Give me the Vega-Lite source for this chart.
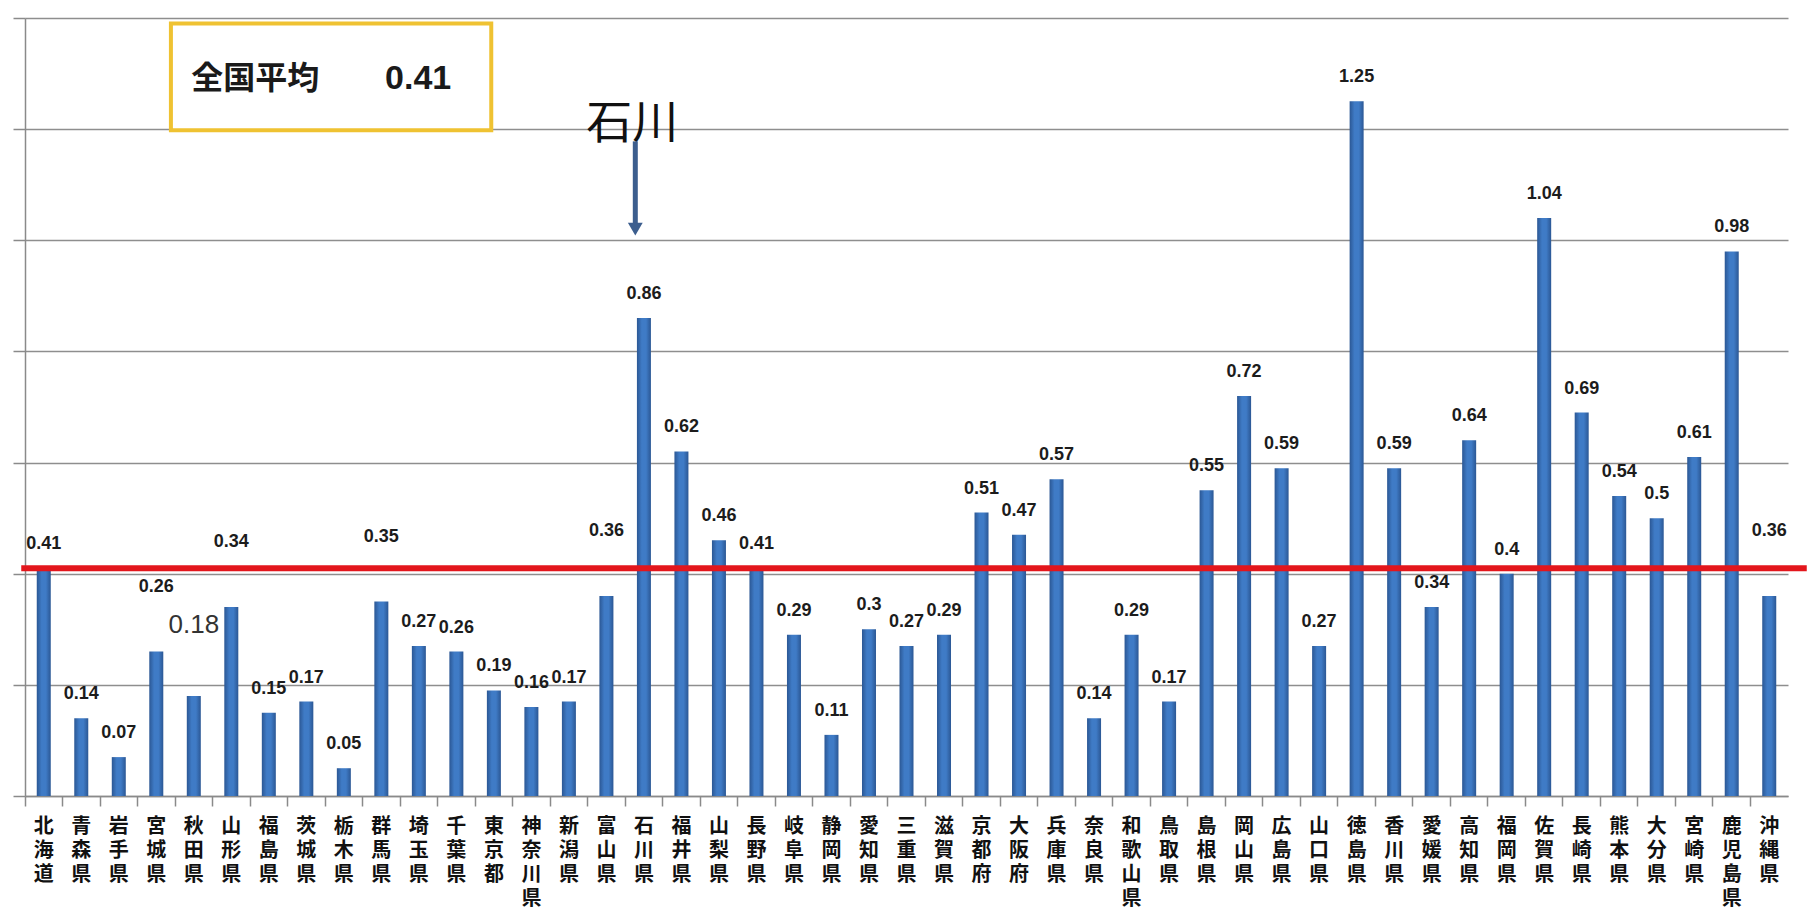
{
  "$schema": "https://vega.github.io/schema/vega-lite/v6.json",
  "width": 1763,
  "height": 778,
  "autosize": {"type": "none"},
  "padding": {"left": 25, "top": 18, "right": 26, "bottom": 124},
  "background": "white",
  "config": {"view": {"stroke": null}},
  "datasets": {
    "pref": [
      {"pref": "北海道", "v": 0.41}, {"pref": "青森県", "v": 0.14}, {"pref": "岩手県", "v": 0.07},
      {"pref": "宮城県", "v": 0.26}, {"pref": "秋田県", "v": 0.18}, {"pref": "山形県", "v": 0.34},
      {"pref": "福島県", "v": 0.15}, {"pref": "茨城県", "v": 0.17}, {"pref": "栃木県", "v": 0.05},
      {"pref": "群馬県", "v": 0.35}, {"pref": "埼玉県", "v": 0.27}, {"pref": "千葉県", "v": 0.26},
      {"pref": "東京都", "v": 0.19}, {"pref": "神奈川県", "v": 0.16}, {"pref": "新潟県", "v": 0.17},
      {"pref": "富山県", "v": 0.36}, {"pref": "石川県", "v": 0.86}, {"pref": "福井県", "v": 0.62},
      {"pref": "山梨県", "v": 0.46}, {"pref": "長野県", "v": 0.41}, {"pref": "岐阜県", "v": 0.29},
      {"pref": "静岡県", "v": 0.11}, {"pref": "愛知県", "v": 0.3}, {"pref": "三重県", "v": 0.27},
      {"pref": "滋賀県", "v": 0.29}, {"pref": "京都府", "v": 0.51}, {"pref": "大阪府", "v": 0.47},
      {"pref": "兵庫県", "v": 0.57}, {"pref": "奈良県", "v": 0.14}, {"pref": "和歌山県", "v": 0.29},
      {"pref": "鳥取県", "v": 0.17}, {"pref": "島根県", "v": 0.55}, {"pref": "岡山県", "v": 0.72},
      {"pref": "広島県", "v": 0.59}, {"pref": "山口県", "v": 0.27}, {"pref": "徳島県", "v": 1.25},
      {"pref": "香川県", "v": 0.59}, {"pref": "愛媛県", "v": 0.34}, {"pref": "高知県", "v": 0.64},
      {"pref": "福岡県", "v": 0.4}, {"pref": "佐賀県", "v": 1.04}, {"pref": "長崎県", "v": 0.69},
      {"pref": "熊本県", "v": 0.54}, {"pref": "大分県", "v": 0.5}, {"pref": "宮崎県", "v": 0.61},
      {"pref": "鹿児島県", "v": 0.98}, {"pref": "沖縄県", "v": 0.36}
    ]
  },
  "layer": [
    {
      "data": {"name": "pref"},
      "encoding": {
        "x": {
          "field": "pref", "type": "nominal", "sort": null,
          "scale": {"paddingInner": 0, "paddingOuter": 0},
          "axis": {
            "title": null, "labelAngle": 0, "bandPosition": 0,
            "labelExpr": "split(datum.label, '')",
            "labelFont": "Noto Sans CJK JP", "labelFontWeight": "bold", "labelFontSize": 20,
            "labelLineHeight": 24, "labelColor": "#111", "labelBaseline": "top", "labelPadding": 10,
            "domainColor": "#8a8a8a", "domainWidth": 1.5, "tickColor": "#8a8a8a", "tickWidth": 1.5, "tickSize": 10,
            "labelOverlap": false, "labelBound": false
          }
        },
        "y": {
          "field": "v", "type": "quantitative",
          "scale": {"domain": [0, 1.4], "nice": false},
          "axis": {
            "title": null, "labels": false, "values": [0, 0.2, 0.4, 0.6, 0.8, 1.0, 1.2, 1.4],
            "domainColor": "#8a8a8a", "domainWidth": 1.5, "tickColor": "#8a8a8a", "tickWidth": 1.5, "tickSize": 12,
            "gridColor": "#8e8e8e", "gridWidth": 1.5
          }
        }
      },
      "layer": [
        {
          "mark": {
            "type": "bar", "size": 14,
            "color": {"gradient": "linear", "x1": 0, "x2": 1, "y1": 0, "y2": 0,
              "stops": [{"offset": 0, "color": "#2b5794"}, {"offset": 0.35, "color": "#3f7bc6"}, {"offset": 0.65, "color": "#3f7bc6"}, {"offset": 1, "color": "#2b5794"}]}
          }
        },
        {
          "transform": [{"filter": {"not": {"field": "pref", "oneOf": ["山形県", "群馬県", "富山県", "沖縄県", "宮城県", "秋田県"]}}}],
          "mark": {"type": "text", "font": "Liberation Sans Narrow, Liberation Sans", "fontWeight": "bold", "fontSize": 18, "color": "#1c1c1c", "baseline": "middle", "dy": -24},
          "encoding": {"text": {"field": "v", "type": "quantitative"}}
        },
        {
          "transform": [{"filter": {"field": "pref", "oneOf": ["山形県", "群馬県", "富山県", "沖縄県", "宮城県"]}}],
          "mark": {"type": "text", "font": "Liberation Sans Narrow, Liberation Sans", "fontWeight": "bold", "fontSize": 18, "color": "#1c1c1c", "baseline": "middle", "dy": -65},
          "encoding": {"text": {"field": "v", "type": "quantitative"}}
        },
        {
          "transform": [{"filter": {"field": "pref", "equal": "秋田県"}}],
          "mark": {"type": "text", "font": "Liberation Sans Narrow, Liberation Sans", "fontSize": 26, "color": "#333", "baseline": "middle", "dy": -71},
          "encoding": {"text": {"field": "v", "type": "quantitative"}}
        }
      ]
    },
    {
      "data": {"values": [{}]},
      "layer": [
        {
          "mark": {"type": "rule", "color": "#e3161c", "strokeWidth": 6},
          "encoding": {
            "x": {"datum": -0.1, "type": "quantitative", "scale": {"domain": [0, 47]}, "axis": null},
            "x2": {"datum": 47.5},
            "y": {"datum": 0.41, "type": "quantitative"}
          }
        },
        {
          "mark": {"type": "rect", "fill": "white", "stroke": "#efc232", "strokeWidth": 4},
          "encoding": {
            "x": {"datum": 3.89, "type": "quantitative", "scale": {"domain": [0, 47]}, "axis": null},
            "x2": {"datum": 12.43},
            "y": {"datum": 1.39, "type": "quantitative"},
            "y2": {"datum": 1.198}
          }
        },
        {
          "mark": {"type": "text", "text": "全国平均", "font": "Noto Sans CJK JP", "fontWeight": "bold", "fontSize": 32, "color": "#1a1a1a", "align": "left", "baseline": "middle"},
          "encoding": {
            "x": {"datum": 4.43, "type": "quantitative", "scale": {"domain": [0, 47]}, "axis": null},
            "y": {"datum": 1.29, "type": "quantitative"}
          }
        },
        {
          "mark": {"type": "text", "text": "0.41", "font": "Liberation Sans Narrow, Liberation Sans", "fontWeight": "bold", "fontSize": 34, "color": "#1a1a1a", "align": "left", "baseline": "middle"},
          "encoding": {
            "x": {"datum": 9.6, "type": "quantitative", "scale": {"domain": [0, 47]}, "axis": null},
            "y": {"datum": 1.29, "type": "quantitative"}
          }
        },
        {
          "mark": {"type": "text", "text": "石川", "font": "Noto Sans CJK JP", "fontSize": 46, "color": "#111", "align": "center", "baseline": "middle"},
          "encoding": {
            "x": {"datum": 16.19, "type": "quantitative", "scale": {"domain": [0, 47]}, "axis": null},
            "y": {"datum": 1.209, "type": "quantitative"}
          }
        },
        {
          "mark": {"type": "rule", "color": "#3c5e8e", "strokeWidth": 5},
          "encoding": {
            "x": {"datum": 16.27, "type": "quantitative", "scale": {"domain": [0, 47]}, "axis": null},
            "y": {"datum": 1.178, "type": "quantitative"},
            "y2": {"datum": 1.03}
          }
        },
        {
          "mark": {"type": "point", "shape": "triangle-down", "filled": true, "color": "#3c5e8e", "size": 220, "opacity": 1},
          "encoding": {
            "x": {"datum": 16.27, "type": "quantitative", "scale": {"domain": [0, 47]}, "axis": null},
            "y": {"datum": 1.02, "type": "quantitative"}
          }
        }
      ]
    }
  ],
  "resolve": {"scale": {"x": "independent"}, "axis": {"x": "independent"}}
}
